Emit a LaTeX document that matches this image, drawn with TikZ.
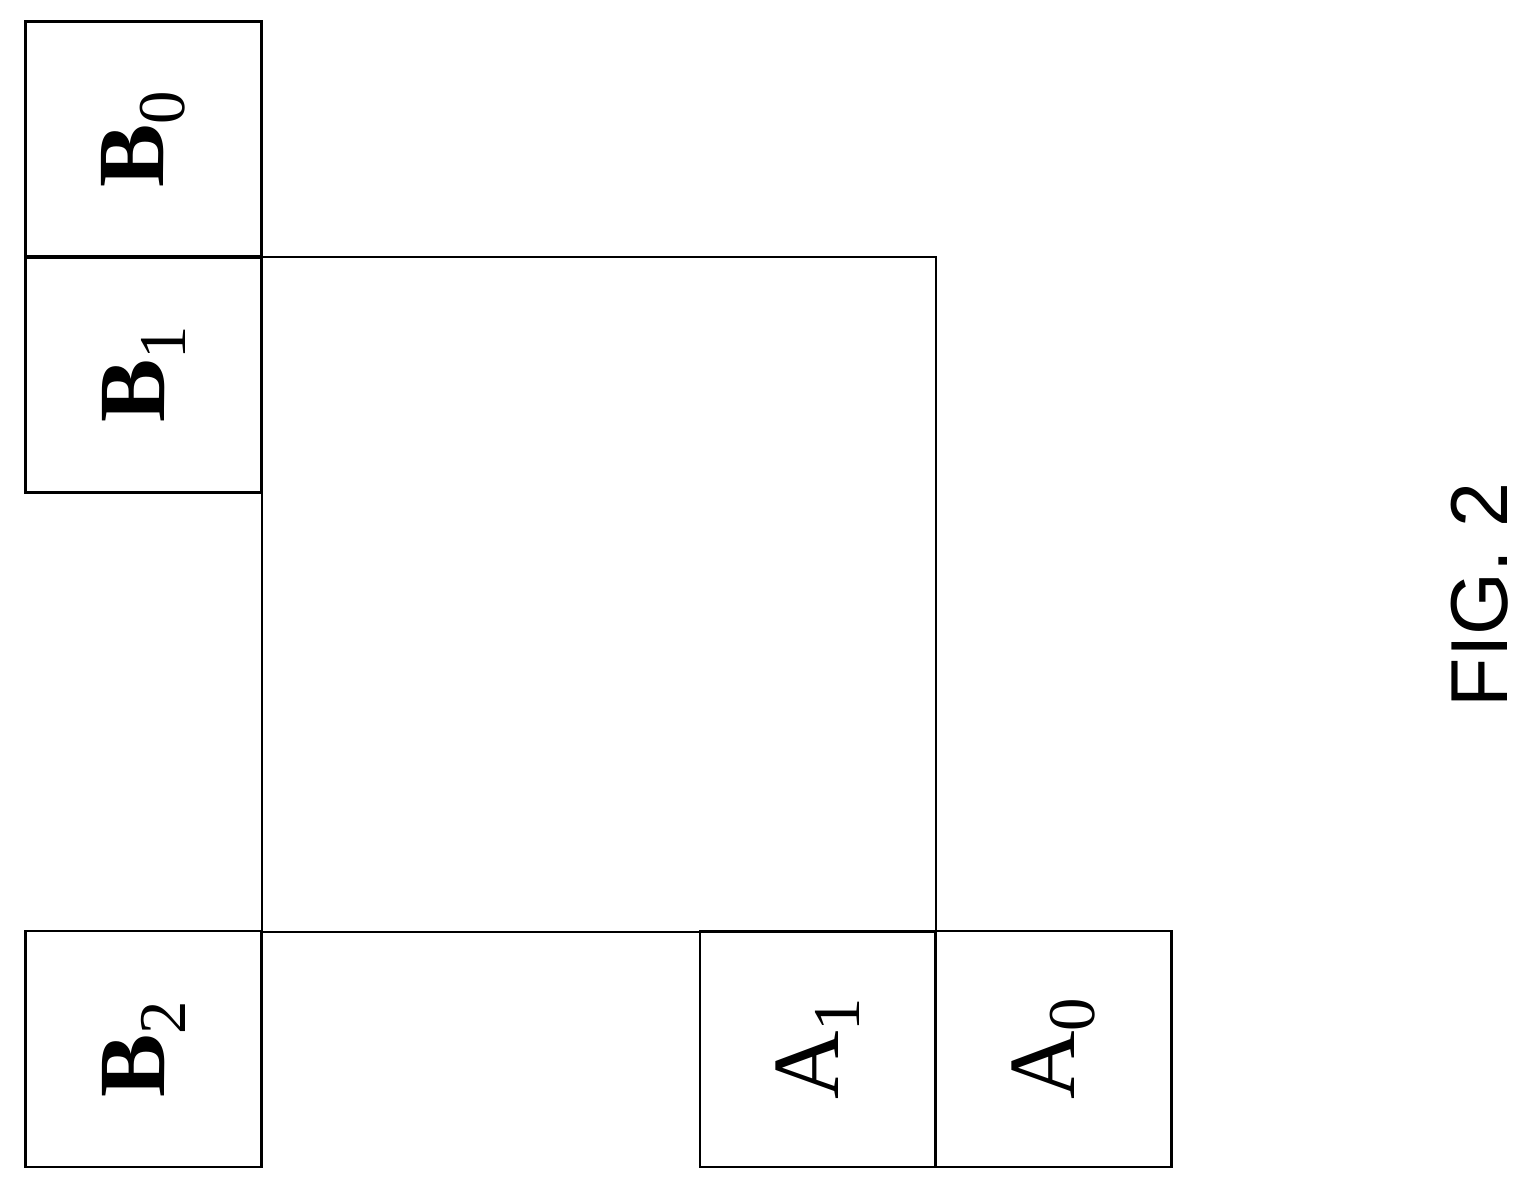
\documentclass[tikz,border=0pt]{standalone}
\usepackage{fontspec}
\setmainfont{Liberation Serif}
\newfontfamily\figfont{Liberation Sans}
\newcommand{\lowsub}[1]{\raisebox{-0.22em}{\fontsize{38}{38}\selectfont #1}}
\begin{document}
\begin{tikzpicture}[x=0.02cm, y=-0.02cm, line width=1.6pt]
    \tikzset{cell/.style={rectangle, draw, minimum size=4.72cm, inner sep=0pt,
        rotate=90, font=\fontsize{54}{54}\selectfont}}
    \useasboundingbox (0,0) rectangle (1527,1192);

    \node [cell] (b0) at (143.5,139.5) {\textbf{B}\lowsub{0}};
    \node [cell] (b1) at (143.5,374.5) {\textbf{B}\lowsub{1}};
    \node [cell] (b2) at (143.5,1049) {\textbf{B}\lowsub{2}};
    \node [cell] (a1) at (818,1049) {A\lowsub{1}};
    \node [cell] (a0) at (1053.5,1049) {A\lowsub{0}};
    \node [rectangle, draw, minimum width=13.48cm, minimum height=13.5cm] (core) at (599,594.5) {};

    \node [rotate=90, font=\figfont\fontsize{46}{46}\selectfont] (fig) at (1480,595) {FIG. 2};
\end{tikzpicture}
\end{document}
